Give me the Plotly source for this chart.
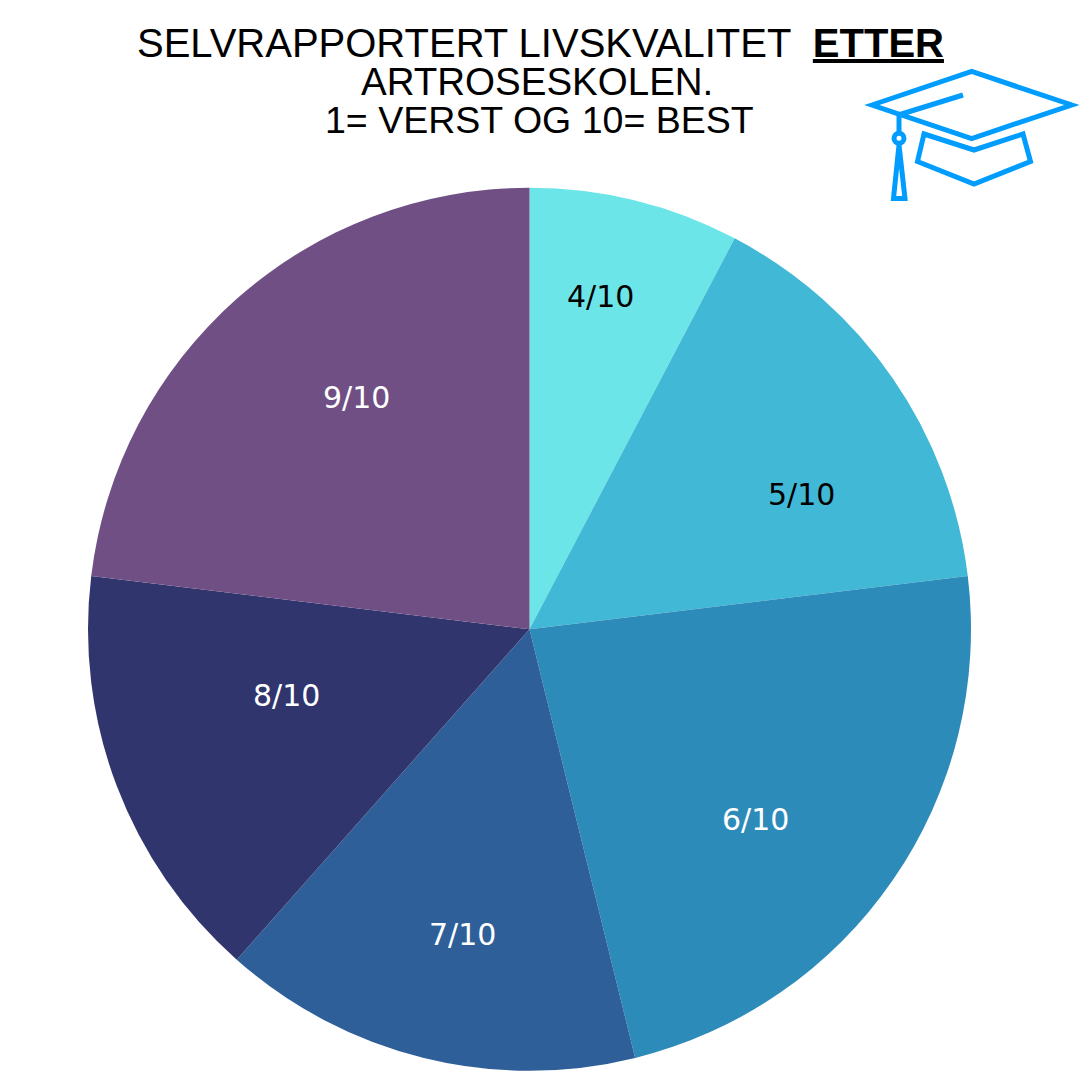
import plotly.graph_objects as go

categories = ["4/10", "5/10", "6/10", "7/10", "8/10", "9/10"]
values = [1, 2, 3, 2, 2, 3]
colors = ["#6CE5E8", "#41B8D5", "#2D8BBA", "#2F5F98", "#31356E", "#704F85"]
text_colors = ["#000000", "#000000", "#FFFFFF", "#FFFFFF", "#FFFFFF", "#FFFFFF"]
title_lines = ["SELVRAPPORTERT LIVSKVALITET  <b><u>ETTER</u></b>", "ARTROSESKOLEN.", "1= VERST OG 10= BEST"]

S = 1080
def px(x): return x / S
def py(y): return 1 - y / S

TITLE_FONT = "Liberation Sans"
LABEL_FONT = "DejaVu Sans"
label_pos = [(600, 296), (801, 495), (755, 819), (462, 934), (286, 695), (356, 398)]
title_pos = [(540.5, 43), (537, 81.5), (539.5, 120.5)]
title_sizes = [40, 38.5, 37.5]

fig = go.Figure(go.Pie(
    labels=categories, values=values, sort=False, direction="clockwise", rotation=0,
    marker=dict(colors=colors, line=dict(width=0)), textinfo="none", hoverinfo="label+value",
    showlegend=False,
    domain=dict(x=[px(88), px(971)], y=[py(1071), py(187.5)]),
))

ann = []
for t, s, (x, y) in zip(title_lines, title_sizes, title_pos):
    ann.append(dict(text=t, x=px(x), y=py(y), xref="paper", yref="paper", xanchor="center", yanchor="middle",
                    showarrow=False, font=dict(family=TITLE_FONT, size=s, color="#000000")))
for t, c, (x, y) in zip(categories, text_colors, label_pos):
    ann.append(dict(text=t, x=px(x), y=py(y), xref="paper", yref="paper", xanchor="center", yanchor="middle",
                    showarrow=False, font=dict(family=LABEL_FONT, size=30, color=c)))

BLUE = "#009DFF"
def poly(points, close=True):
    d = "M " + " L ".join(f"{px(x):.5f},{py(y):.5f}" for x, y in points) + (" Z" if close else "")
    return dict(type="path", path=d, xref="paper", yref="paper", line=dict(color=BLUE, width=5), fillcolor="rgba(0,0,0,0)", layer="above")

shapes = [
    poly([(872, 105), (971.7, 71.5), (1071.7, 105), (971.7, 138.5)]),
    poly([(900, 114.5), (963, 95)], close=False),
    poly([(899, 114), (899, 133)], close=False),
    poly([(899, 145), (893.5, 198.5), (905, 198.5)]),
    poly([(924, 134), (974, 150), (1023, 134), (1030.5, 161.5), (974, 184), (917.5, 161.5)]),
    dict(type="circle", xref="paper", yref="paper", x0=px(894), x1=px(904), y0=py(143.3), y1=py(133.3),
         line=dict(color=BLUE, width=5), fillcolor="#FFFFFF", layer="above"),
]

fig.update_layout(width=S, height=S, margin=dict(l=0, r=0, t=0, b=0), paper_bgcolor="#FFFFFF",
                  annotations=ann, shapes=shapes)
fig.write_html("out.html", post_script="document.body.style.margin='0';", config={"displayModeBar": False})
